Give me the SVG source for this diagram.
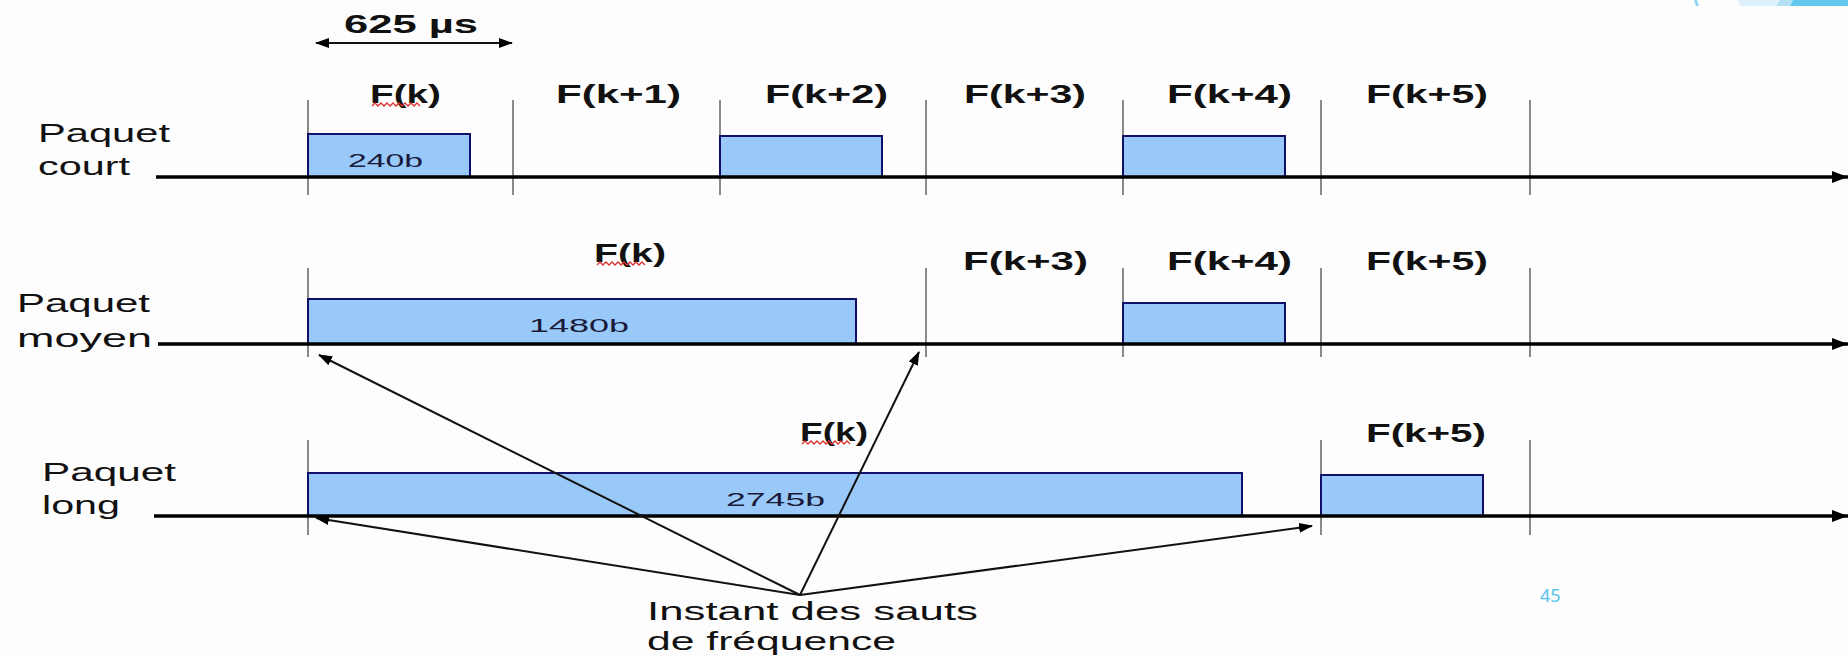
<svg xmlns="http://www.w3.org/2000/svg" width="1848" height="658" viewBox="0 0 1848 658">
<style>
.lbl{font-family:"Liberation Sans",Arial,sans-serif;font-weight:bold;font-size:25px;fill:#111}
.row{font-family:"Liberation Sans",Arial,sans-serif;font-size:25px;fill:#111}
.bits{font-family:"Liberation Sans",Arial,sans-serif;font-size:18px;fill:#1a1a3a}
.note{font-family:"Liberation Sans",Arial,sans-serif;font-size:26px;fill:#111}
.pkt{fill:#99c9f9;stroke:#10106a;stroke-width:2}
.tick{stroke:#8a8a8a;stroke-width:2}
.axis{stroke:#000;stroke-width:3.5;fill:none}
.ptr{stroke:#111;stroke-width:2;fill:none}
.sq{stroke:#e03030;stroke-width:1.3;fill:none}
</style>
<defs>
<marker id="ah" viewBox="0 0 14 10" refX="13" refY="5" markerWidth="14" markerHeight="10" markerUnits="userSpaceOnUse" orient="auto-start-reverse">
<path d="M0,0 L14,5 L0,10 Z" fill="#000"/>
</marker>
<marker id="ax" viewBox="0 0 16 12" refX="16" refY="6" markerWidth="16" markerHeight="12" markerUnits="userSpaceOnUse" orient="auto">
<path d="M0,0 L16,6 L0,12 Z" fill="#000"/>
</marker>
</defs>
<rect width="1848" height="658" fill="#fdfdfd"/>
<g id="corner-deco">
<polygon points="1694,0 1697,0 1699,6 1696,6" fill="#8fd6f2"/>
<polygon points="1738,0 1780,0 1776,6 1740,6" fill="#ddf1fa"/>
<polygon points="1780,0 1793,0 1790,6 1776,6" fill="#b0e1f5"/>
<polygon points="1793,0 1848,0 1848,6 1790,6" fill="#62c9ee"/>
</g>
<g id="duration">
<line x1="316" y1="43" x2="512" y2="43" class="ptr" marker-start="url(#ah)" marker-end="url(#ah)"/>
<text x="344" y="33" class="lbl" textLength="134" lengthAdjust="spacingAndGlyphs">625 µs</text>
</g>
<g id="ticks">
<line x1="308" y1="100" x2="308" y2="195" class="tick"/>
<line x1="513" y1="100" x2="513" y2="195" class="tick"/>
<line x1="720" y1="100" x2="720" y2="195" class="tick"/>
<line x1="926" y1="100" x2="926" y2="195" class="tick"/>
<line x1="1123" y1="100" x2="1123" y2="195" class="tick"/>
<line x1="1321" y1="100" x2="1321" y2="195" class="tick"/>
<line x1="1530" y1="100" x2="1530" y2="195" class="tick"/>
<line x1="308" y1="268" x2="308" y2="357" class="tick"/>
<line x1="926" y1="268" x2="926" y2="357" class="tick"/>
<line x1="1123" y1="268" x2="1123" y2="357" class="tick"/>
<line x1="1321" y1="268" x2="1321" y2="357" class="tick"/>
<line x1="1530" y1="268" x2="1530" y2="357" class="tick"/>
<line x1="308" y1="440" x2="308" y2="535" class="tick"/>
<line x1="1321" y1="440" x2="1321" y2="535" class="tick"/>
<line x1="1530" y1="440" x2="1530" y2="535" class="tick"/>
</g>
<g id="row-court">
<text x="38" y="142" class="row" textLength="132" lengthAdjust="spacingAndGlyphs">Paquet</text>
<text x="38" y="175" class="row" textLength="92" lengthAdjust="spacingAndGlyphs">court</text>
<rect x="308" y="134" width="162" height="43" class="pkt"/>
<text x="348" y="167" class="bits" textLength="75" lengthAdjust="spacingAndGlyphs">240b</text>
<rect x="720" y="136" width="162" height="41" class="pkt"/>
<rect x="1123" y="136" width="162" height="41" class="pkt"/>
<line x1="156" y1="177" x2="1848" y2="177" class="axis" marker-end="url(#ax)"/>
<text x="370" y="103" class="lbl" textLength="71" lengthAdjust="spacingAndGlyphs">F(k)</text>
<path d="M372 106 l3 -3 l3 3 l3 -3 l3 3 l3 -3 l3 3 l3 -3 l3 3 l3 -3 l3 3 l3 -3 l3 3 l3 -3 l3 3 l3 -3 l3 3" class="sq"/>
<text x="556" y="103" class="lbl" textLength="125" lengthAdjust="spacingAndGlyphs">F(k+1)</text>
<text x="765" y="103" class="lbl" textLength="123" lengthAdjust="spacingAndGlyphs">F(k+2)</text>
<text x="964" y="103" class="lbl" textLength="122" lengthAdjust="spacingAndGlyphs">F(k+3)</text>
<text x="1167" y="103" class="lbl" textLength="125" lengthAdjust="spacingAndGlyphs">F(k+4)</text>
<text x="1366" y="103" class="lbl" textLength="122" lengthAdjust="spacingAndGlyphs">F(k+5)</text>
</g>
<g id="row-moyen">
<text x="17" y="312" class="row" textLength="133" lengthAdjust="spacingAndGlyphs">Paquet</text>
<text x="17" y="347" class="row" textLength="135" lengthAdjust="spacingAndGlyphs">moyen</text>
<rect x="308" y="299" width="548" height="45" class="pkt"/>
<text x="529" y="332" class="bits" textLength="100" lengthAdjust="spacingAndGlyphs">1480b</text>
<rect x="1123" y="303" width="162" height="41" class="pkt"/>
<line x1="158" y1="344" x2="1848" y2="344" class="axis" marker-end="url(#ax)"/>
<text x="594" y="262" class="lbl" textLength="72" lengthAdjust="spacingAndGlyphs">F(k)</text>
<path d="M597 265 l3 -3 l3 3 l3 -3 l3 3 l3 -3 l3 3 l3 -3 l3 3 l3 -3 l3 3 l3 -3 l3 3 l3 -3 l3 3 l3 -3 l3 3" class="sq"/>
<text x="963" y="270" class="lbl" textLength="125" lengthAdjust="spacingAndGlyphs">F(k+3)</text>
<text x="1167" y="270" class="lbl" textLength="125" lengthAdjust="spacingAndGlyphs">F(k+4)</text>
<text x="1366" y="270" class="lbl" textLength="122" lengthAdjust="spacingAndGlyphs">F(k+5)</text>
</g>
<g id="row-long">
<text x="42" y="481" class="row" textLength="134" lengthAdjust="spacingAndGlyphs">Paquet</text>
<text x="42" y="514" class="row" textLength="78" lengthAdjust="spacingAndGlyphs">long</text>
<rect x="308" y="473" width="934" height="43" class="pkt"/>
<text x="726" y="506" class="bits" textLength="99" lengthAdjust="spacingAndGlyphs">2745b</text>
<rect x="1321" y="475" width="162" height="41" class="pkt"/>
<line x1="154" y1="516" x2="1848" y2="516" class="axis" marker-end="url(#ax)"/>
<text x="800" y="441" class="lbl" textLength="68" lengthAdjust="spacingAndGlyphs">F(k)</text>
<path d="M802 444 l3 -3 l3 3 l3 -3 l3 3 l3 -3 l3 3 l3 -3 l3 3 l3 -3 l3 3 l3 -3 l3 3 l3 -3 l3 3 l3 -3 l3 3" class="sq"/>
<text x="1366" y="442" class="lbl" textLength="120" lengthAdjust="spacingAndGlyphs">F(k+5)</text>
</g>
<g id="connectors">
<line x1="800" y1="595" x2="319" y2="355" class="ptr" marker-end="url(#ah)"/>
<line x1="800" y1="595" x2="919" y2="352" class="ptr" marker-end="url(#ah)"/>
<line x1="800" y1="595" x2="316" y2="518" class="ptr" marker-end="url(#ah)"/>
<line x1="800" y1="595" x2="1312" y2="526" class="ptr" marker-end="url(#ah)"/>
</g>
<g id="note">
<text x="647" y="620" class="note" textLength="331" lengthAdjust="spacingAndGlyphs">Instant des sauts</text>
<text x="647" y="650" class="note" textLength="249" lengthAdjust="spacingAndGlyphs">de fréquence</text>
</g>
<g id="page-number">
<text x="1540" y="602" font-family="'Noto Sans','Open Sans',sans-serif" font-size="18" fill="#55c3ec">45</text>
</g>
</svg>
